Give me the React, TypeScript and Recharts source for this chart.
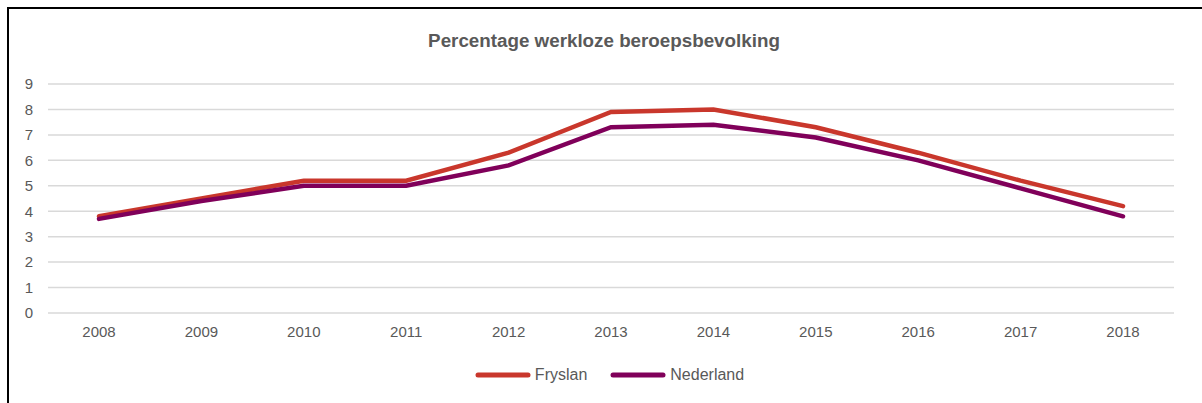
import { LineChart, Line, XAxis, YAxis, CartesianGrid, Legend } from "recharts";

const YEARS = ["2008", "2009", "2010", "2011", "2012", "2013", "2014", "2015", "2016", "2017", "2018"];
const FRYSLAN = [3.8, 4.5, 5.2, 5.2, 6.3, 7.9, 8.0, 7.3, 6.3, 5.2, 4.2];
const NEDERLAND = [3.7, 4.4, 5.0, 5.0, 5.8, 7.3, 7.4, 6.9, 6.0, 4.9, 3.8];
const Y_TICKS = [0, 1, 2, 3, 4, 5, 6, 7, 8, 9];

const SERIES = [
  { key: "Fryslan", color: "#C9372C" },
  { key: "Nederland", color: "#80005A" },
];

const data = YEARS.map((year, i) => ({
  year,
  Fryslan: FRYSLAN[i],
  Nederland: NEDERLAND[i],
}));

const FONT = "'Liberation Sans', Arial, sans-serif";
const TEXT = "#595959";

function LegendContent() {
  return (
    <div
      style={{
        display: "flex",
        justifyContent: "center",
        gap: 22,
        paddingLeft: 26,
        fontFamily: FONT,
        fontSize: 16,
        color: TEXT,
      }}
    >
      {SERIES.map((s) => (
        <div key={s.key} style={{ display: "flex", alignItems: "center" }}>
          <svg width={58} height={10} style={{ marginRight: 3 }}>
            <line x1={4} y1={5} x2={54} y2={5} stroke={s.color} strokeWidth={5} strokeLinecap="round" />
          </svg>
          <span>{s.key}</span>
        </div>
      ))}
    </div>
  );
}

export default function App() {
  return (
    <div style={{ position: "absolute", left: 0, top: 0, width: 1202, height: 403, background: "#fff", overflow: "hidden" }}>
      <div
        style={{
          position: "absolute",
          left: 7,
          top: 7,
          width: 1210,
          height: 410,
          borderLeft: "2px solid #000",
          borderTop: "2px solid #000",
        }}
      />
      <div
        style={{
          position: "absolute",
          left: 0,
          top: 30,
          width: 1208,
          textAlign: "center",
          fontFamily: FONT,
          fontWeight: "bold",
          fontSize: 18.8,
          color: TEXT,
        }}
      >
        Percentage werkloze beroepsbevolking
      </div>
      <div style={{ position: "absolute", left: 0, top: 0 }}>
        <LineChart width={1202} height={403} data={data} margin={{ top: 84, right: 28, bottom: 42, left: 18 }}>
          <CartesianGrid vertical={false} stroke="#d9d9d9" strokeWidth={1.5} />
          <XAxis
            dataKey="year"
            axisLine={false}
            tickLine={false}
            tickMargin={7}
            height={30}
            padding={{ left: 51, right: 51 }}
            tick={{ fill: TEXT, fontSize: 15, fontFamily: FONT }}
          />
          <YAxis
            domain={[0, 9]}
            ticks={Y_TICKS}
            width={30}
            axisLine={false}
            tickLine={false}
            tickMargin={9}
            tick={{ fill: TEXT, fontSize: 15, fontFamily: FONT }}
          />
          <Legend verticalAlign="bottom" content={<LegendContent />} wrapperStyle={{ top: 366, bottom: "auto" }} />
          {SERIES.map((s) => (
            <Line
              key={s.key}
              type="linear"
              dataKey={s.key}
              stroke={s.color}
              strokeWidth={4.5}
              strokeLinecap="round"
              dot={false}
              activeDot={false}
              isAnimationActive={false}
            />
          ))}
        </LineChart>
      </div>
    </div>
  );
}
